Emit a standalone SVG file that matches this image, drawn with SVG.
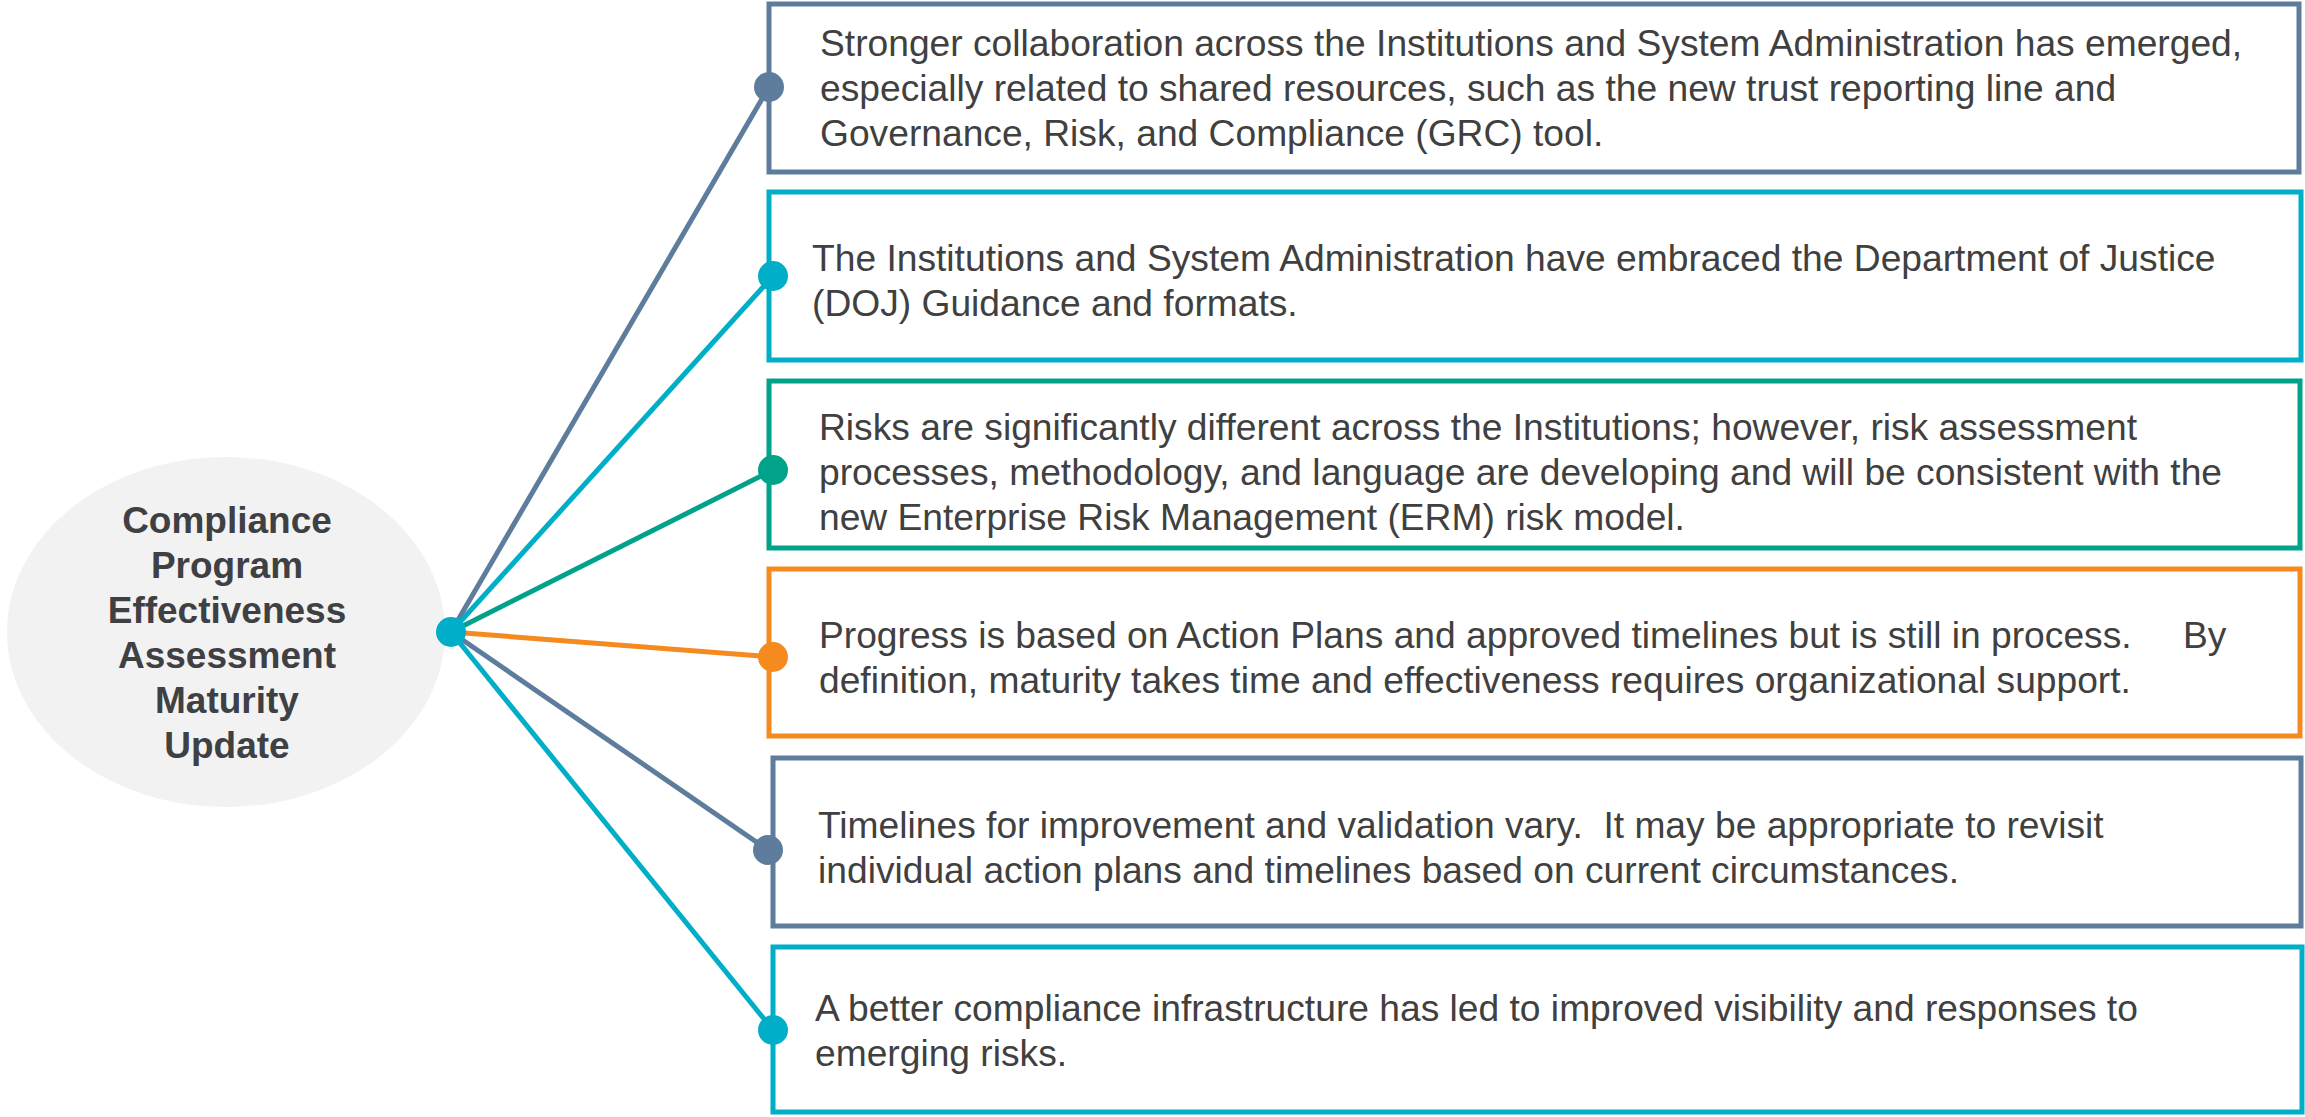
<svg xmlns="http://www.w3.org/2000/svg" width="2305" height="1117" viewBox="0 0 2305 1117">
<style>
.box{fill:#fff;stroke-width:5}
.t{font-family:"Liberation Sans",Arial,sans-serif;font-size:37.2px;fill:#404040}
.title{font-family:"Liberation Sans",Arial,sans-serif;font-size:37px;font-weight:bold;fill:#3f4043;text-anchor:middle}
.c{stroke-width:5;fill:none}
.slate{stroke:#5e7c9c}
.cyan{stroke:#00aec7}
.teal{stroke:#00a28a}
.orange{stroke:#f58a1f}
</style>
<rect width="2305" height="1117" fill="#fff"/>
<g id="center">
<ellipse cx="226" cy="632" rx="219" ry="175" fill="#f2f2f2"/>
<text class="title"><tspan x="227" y="533">Compliance</tspan><tspan x="227" y="578">Program</tspan><tspan x="227" y="623">Effectiveness</tspan><tspan x="227" y="668">Assessment</tspan><tspan x="227" y="713">Maturity</tspan><tspan x="227" y="758">Update</tspan></text>
</g>
<g id="box1">
<rect class="box slate" x="769" y="4" width="1530" height="168"/>
<text class="t"><tspan x="820" y="56">Stronger collaboration across the Institutions and System Administration has emerged,</tspan><tspan x="820" y="101">especially related to shared resources, such as the new trust reporting line and</tspan><tspan x="820" y="146">Governance, Risk, and Compliance (GRC) tool.</tspan></text>
</g>
<g id="box2">
<rect class="box cyan" x="769" y="192" width="1532" height="168"/>
<text class="t"><tspan x="812" y="271">The Institutions and System Administration have embraced the Department of Justice</tspan><tspan x="812" y="316">(DOJ) Guidance and formats.</tspan></text>
</g>
<g id="box3">
<rect class="box teal" x="769" y="381" width="1531" height="167"/>
<text class="t"><tspan x="819" y="440">Risks are significantly different across the Institutions; however, risk assessment</tspan><tspan x="819" y="485">processes, methodology, and language are developing and will be consistent with the</tspan><tspan x="819" y="530">new Enterprise Risk Management (ERM) risk model.</tspan></text>
</g>
<g id="box4">
<rect class="box orange" x="769" y="569" width="1531" height="167"/>
<text class="t"><tspan x="819" y="648">Progress is based on Action Plans and approved timelines but is still in process.</tspan><tspan x="2183" y="648">By</tspan><tspan x="819" y="693">definition, maturity takes time and effectiveness requires organizational support.</tspan></text>
</g>
<g id="box5">
<rect class="box slate" x="773" y="758" width="1528" height="168"/>
<text class="t" xml:space="preserve"><tspan x="818" y="838">Timelines for improvement and validation vary.  It may be appropriate to revisit</tspan><tspan x="818" y="883">individual action plans and timelines based on current circumstances.</tspan></text>
</g>
<g id="box6">
<rect class="box cyan" x="773" y="947" width="1529" height="165"/>
<text class="t"><tspan x="815" y="1021">A better compliance infrastructure has led to improved visibility and responses to</tspan><tspan x="815" y="1066">emerging risks.</tspan></text>
</g>
<g id="connectors">
<line class="c slate" x1="451" y1="632" x2="769" y2="87"/>
<line class="c cyan" x1="451" y1="632" x2="773" y2="276"/>
<line class="c teal" x1="451" y1="632" x2="773" y2="470"/>
<line class="c orange" x1="451" y1="632" x2="773" y2="657"/>
<line class="c slate" x1="451" y1="632" x2="768" y2="850"/>
<line class="c cyan" x1="451" y1="632" x2="773" y2="1030"/>
<circle cx="769" cy="87" r="15" fill="#5e7c9c"/>
<circle cx="773" cy="276" r="15" fill="#00aec7"/>
<circle cx="773" cy="470" r="15" fill="#00a28a"/>
<circle cx="773" cy="657" r="15" fill="#f58a1f"/>
<circle cx="768" cy="850" r="15" fill="#5e7c9c"/>
<circle cx="773" cy="1030" r="15" fill="#00aec7"/>
<circle cx="451" cy="632" r="15" fill="#00aec7"/>
</g>
</svg>
